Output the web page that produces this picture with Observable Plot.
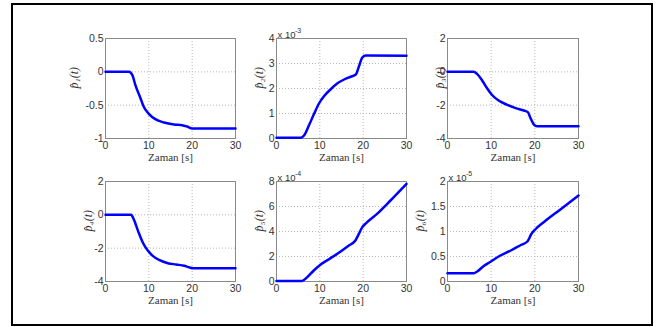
<!DOCTYPE html>
<html>
<head>
<meta charset="utf-8">
<script src="https://cdn.jsdelivr.net/npm/d3@7"></script>
<script src="https://cdn.jsdelivr.net/npm/@observablehq/plot@0.6"></script>
<style>
  html, body { margin: 0; padding: 0; background: #fff; overflow: hidden; }
  #page { position: relative; width: 665px; height: 327px; overflow: hidden; background: #fff; }
  #border { position: absolute; left: 11px; top: 3px; width: 638px; height: 319px; border: 2px solid #000; }
  .cell { position: absolute; }
  .cell svg { overflow: visible; }
</style>
</head>
<body>
<div id="page"><div id="border"></div></div>
<script>
// ---- data (values in the units shown on each axis) ----
const xTicks = [0, 10, 20, 30];

const t1 = [0, 5.4, 6.2, 6.9, 8.1, 8.8, 10, 11.5, 13.5, 15.8, 17.7, 18.8, 20, 30];
const p1 = [0, 0, -0.05, -0.2, -0.4, -0.52, -0.63, -0.71, -0.76, -0.79, -0.8, -0.82, -0.85, -0.85];
const y1Ticks = [-1, -0.5, 0, 0.5];

const t2 = [0, 5.6, 6.4, 7.5, 8.7, 9.8, 11, 12.5, 14, 15.6, 17.1, 18.3, 19, 19.8, 20.6, 30];
const p2 = [0.03, 0.03, 0.13, 0.53, 1.0, 1.4, 1.7, 1.97, 2.2, 2.36, 2.47, 2.56, 2.87, 3.24, 3.32, 3.31]; // x 10^-3
const y2Ticks = [0, 1, 2, 3, 4];

const t3 = [0, 6, 6.8, 7.9, 9.1, 10.2, 11.7, 13.7, 15.6, 17.5, 18.4, 19, 19.8, 20.5, 30];
const p3 = [0, 0, -0.14, -0.5, -1.0, -1.39, -1.72, -1.98, -2.18, -2.32, -2.42, -2.77, -3.17, -3.27, -3.27];
const y3Ticks = [-4, -2, 0, 2];

const t4 = [0, 5.9, 6.5, 7.5, 8.6, 9.8, 10.9, 12.5, 14.4, 16.3, 18.2, 19.4, 20.2, 30];
const p4 = [0, 0, -0.26, -0.96, -1.66, -2.16, -2.46, -2.72, -2.9, -2.98, -3.06, -3.16, -3.2, -3.2];
const y4Ticks = [-4, -2, 0, 2];

const t5 = [0, 5.9, 7.1, 8.6, 10.2, 12.5, 14.8, 16.7, 18.2, 19, 19.8, 20.5, 23.2, 26.3, 30];
const p5 = [0.05, 0.05, 0.35, 0.88, 1.36, 1.87, 2.4, 2.88, 3.28, 3.81, 4.35, 4.61, 5.41, 6.48, 7.81]; // x 10^-4
const y5Ticks = [0, 2, 4, 6, 8];

const t6 = [0, 6, 6.8, 8.3, 9.8, 12.1, 14.5, 16.8, 18.3, 19.2, 20.2, 22.1, 26, 30];
const p6 = [0.167, 0.167, 0.2, 0.31, 0.39, 0.52, 0.62, 0.73, 0.8, 0.95, 1.05, 1.19, 1.45, 1.72]; // x 10^-5
const y6Ticks = [0, 0.5, 1, 1.5, 2];

const yLabels = ["p\u0302\u2081(t)", "p\u0302\u2082(t)", "p\u0302\u2083(t)", "p\u0302\u2084(t)", "p\u0302\u2085(t)", "p\u0302\u2086(t)"];
const exponents = [null, "-3", null, null, "-4", "-5"];
const xLabel = "Zaman [s]";

// ---- layout ----
const panels = [
  {t: t1, v: p1, ticks: y1Ticks, left: 105, top: 38, w: 130, yoff: 31},
  {t: t2, v: p2, ticks: y2Ticks, left: 276, top: 38, w: 130, yoff: 17},
  {t: t3, v: p3, ticks: y3Ticks, left: 447, top: 38, w: 131, yoff: 7},
  {t: t4, v: p4, ticks: y4Ticks, left: 105, top: 181, w: 130, yoff: 17},
  {t: t5, v: p5, ticks: y5Ticks, left: 276, top: 181, w: 130, yoff: 17},
  {t: t6, v: p6, ticks: y6Ticks, left: 447, top: 181, w: 131, yoff: 27}
];

const ML = 50, MR = 15, MT = 20, MB = 35, FH = 100;
const sans = "Liberation Sans";
const serif = "Liberation Serif";
const fmt = d => String(d);
const page = document.getElementById("page");

panels.forEach((p, i) => {
  const data = p.t.map((t, k) => ({t, v: p.v[k]}));
  const ticks = p.ticks;
  const marks = [
    Plot.gridX(xTicks, {stroke: "#b8b8b8", strokeOpacity: 1, strokeDasharray: "1,2"}),
    Plot.gridY(ticks, {stroke: "#b8b8b8", strokeOpacity: 1, strokeDasharray: "1,2"}),
    Plot.frame({stroke: "#8a8a8a"}),
    Plot.axisX(xTicks, {tickSize: 0, tickPadding: 3, label: null, tickFormat: fmt, fontSize: 10.5, fontFamily: sans}),
    Plot.axisY(ticks, {tickSize: 0, tickPadding: 2, label: null, tickFormat: fmt, fontSize: 10.5, fontFamily: sans}),
    Plot.line(data, {x: "t", y: "v", stroke: "#0000ff", strokeWidth: 2.5, curve: "monotone-x"}),
    Plot.text([xLabel], {text: d => d, frameAnchor: "bottom", dy: 19, lineAnchor: "middle",
      fontFamily: serif, fontSize: 11, fill: "#333"}),
    Plot.text([yLabels[i]], {text: d => d, frameAnchor: "left", dx: -p.yoff, rotate: -90,
      lineAnchor: "middle", fontFamily: serif, fontStyle: "italic", fontSize: 12, fill: "#333"})
  ];
  if (exponents[i]) {
    marks.push(Plot.text(["x 10"], {text: d => d, frameAnchor: "top-left", textAnchor: "start",
      lineAnchor: "bottom", dx: 1, dy: -1, fontSize: 9.5, fontFamily: sans, fill: "#333"}));
    marks.push(Plot.text([exponents[i]], {text: d => d, frameAnchor: "top-left", textAnchor: "start",
      lineAnchor: "bottom", dx: 18.5, dy: -6, fontSize: 7, fontFamily: sans, fill: "#333"}));
  }
  const chart = Plot.plot({
    width: ML + p.w + MR,
    height: MT + FH + MB,
    marginLeft: ML, marginRight: MR, marginTop: MT, marginBottom: MB,
    style: {fontFamily: sans, fontSize: "10.5px", color: "#333", background: "transparent", overflow: "visible"},
    x: {domain: [0, 30]},
    y: {domain: [ticks[0], ticks[ticks.length - 1]]},
    marks
  });
  const cell = document.createElement("div");
  cell.className = "cell";
  cell.style.left = (p.left - ML) + "px";
  cell.style.top = (p.top - MT) + "px";
  cell.appendChild(chart);
  page.appendChild(cell);
});
</script>
</body>
</html>
